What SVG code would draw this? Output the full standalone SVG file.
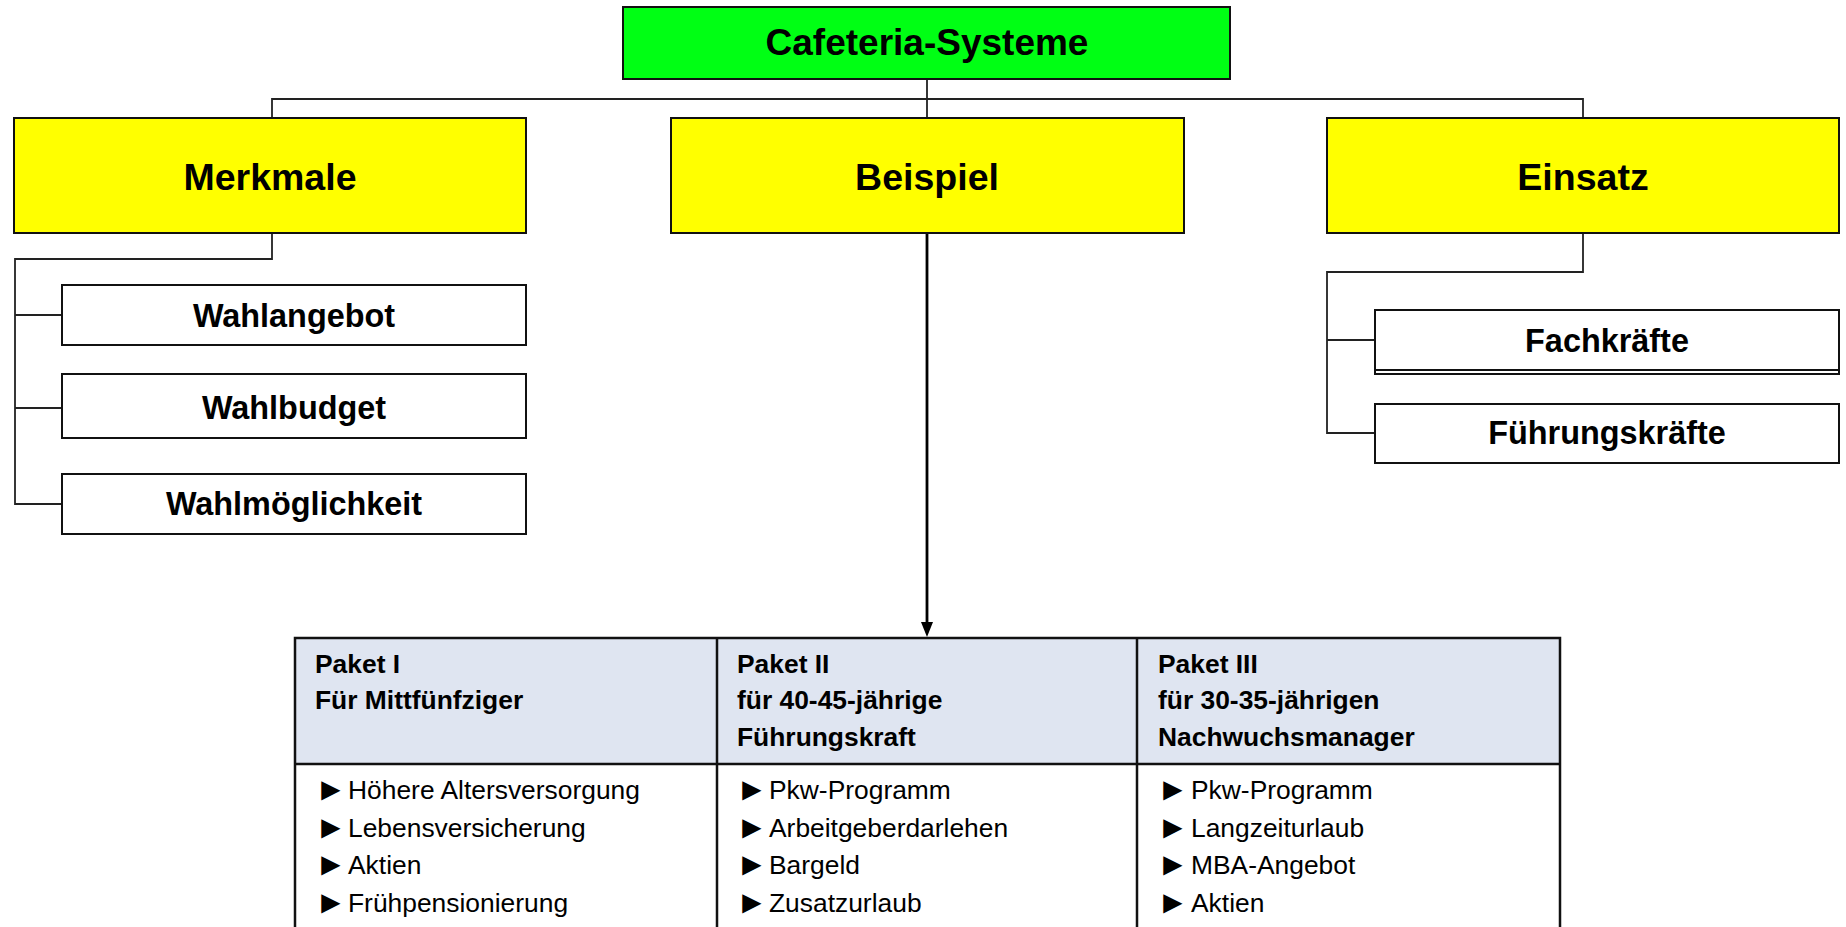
<svg xmlns="http://www.w3.org/2000/svg" width="1846" height="927" viewBox="0 0 1846 927">
<defs>
<style>
.box{stroke:#111;stroke-width:2}
.green{fill:#00FF14}
.yellow{fill:#FFFF00}
.white{fill:#FFFFFF}
.t{font-family:"Liberation Sans",Arial,sans-serif;font-weight:bold;fill:#000;text-anchor:middle}
.t37{font-size:37px}
.t36{font-size:37.5px}
.t32{font-size:32.4px}
.conn{fill:none;stroke:#222;stroke-width:1.8}
.arrow{fill:none;stroke:#000;stroke-width:2.8}
.hdr{fill:#DFE5F1}
.grid{fill:none;stroke:#111;stroke-width:2.5}
.th{font-family:"Liberation Sans",Arial,sans-serif;font-weight:bold;font-size:26.4px;fill:#000}
.td{font-family:"Liberation Sans",Arial,sans-serif;font-size:26.4px;fill:#000}
.bu{font-family:"Liberation Sans",Arial,sans-serif;font-size:32px;fill:#000}
</style>
</defs>
<rect width="1846" height="927" fill="#FFFFFF"/>

<g id="connectors">
<path class="conn" d="M927,79 V118 M272,118 V99 H1583 V118"/>
<path class="conn" d="M272,233 V259 H15 V504 H62 M15,315 H62 M15,408 H62"/>
<path class="conn" d="M1583,233 V272 H1327 V433 H1375 M1327,340 H1375"/>
<line class="arrow" x1="927" y1="234" x2="927" y2="624"/>
<path d="M921,622 L933,622 L927,637 Z" fill="#000"/>
</g>

<g id="cafeteria">
<rect class="box green" x="623" y="7" width="607" height="72"/>
<text class="t t37" x="927" y="55">Cafeteria-Systeme</text>
</g>

<g id="merkmale">
<rect class="box yellow" x="14" y="118" width="512" height="115"/>
<text class="t t36" x="270" y="190">Merkmale</text>
</g>
<g id="beispiel">
<rect class="box yellow" x="671" y="118" width="513" height="115"/>
<text class="t t36" x="927" y="190">Beispiel</text>
</g>
<g id="einsatz">
<rect class="box yellow" x="1327" y="118" width="512" height="115"/>
<text class="t t36" x="1583" y="190">Einsatz</text>
</g>

<g id="wahlangebot">
<rect class="box white" x="62" y="285" width="464" height="60"/>
<text class="t t32" x="294" y="327">Wahlangebot</text>
</g>
<g id="wahlbudget">
<rect class="box white" x="62" y="374" width="464" height="64"/>
<text class="t t32" x="294" y="419">Wahlbudget</text>
</g>
<g id="wahlmoeglichkeit">
<rect class="box white" x="62" y="474" width="464" height="60"/>
<text class="t t32" x="294" y="515">Wahlmöglichkeit</text>
</g>

<g id="fachkraefte">
<rect class="box white" x="1375" y="310" width="464" height="64"/>
<rect class="box white" x="1375" y="310" width="464" height="60"/>
<text class="t t32" x="1607" y="352">Fachkräfte</text>
</g>
<g id="fuehrungskraefte">
<rect class="box white" x="1375" y="404" width="464" height="59"/>
<text class="t t32" x="1607" y="444">Führungskräfte</text>
</g>

<g id="table">
<rect class="hdr" x="295" y="638" width="1265" height="126"/>
<rect fill="#FFFFFF" x="295" y="764" width="1265" height="180"/>
<path class="grid" d="M295,945 V638 H1560 V945 M295,764 H1560 M717,638 V945 M1137,638 V945"/>
<text class="th" x="315" y="673">Paket I</text>
<text class="th" x="315" y="709">Für Mittfünfziger</text>
<text class="th" x="737" y="673">Paket II</text>
<text class="th" x="737" y="709">für 40-45-jährige</text>
<text class="th" x="737" y="746">Führungskraft</text>
<text class="th" x="1158" y="673">Paket III</text>
<text class="th" x="1158" y="709">für 30-35-jährigen</text>
<text class="th" x="1158" y="746">Nachwuchsmanager</text>

<text class="bu" x="315" y="800">►</text>
<text class="bu" x="315" y="838">►</text>
<text class="bu" x="315" y="875">►</text>
<text class="bu" x="315" y="913">►</text>
<text class="bu" x="736" y="800">►</text>
<text class="bu" x="736" y="838">►</text>
<text class="bu" x="736" y="875">►</text>
<text class="bu" x="736" y="913">►</text>
<text class="bu" x="1157" y="800">►</text>
<text class="bu" x="1157" y="838">►</text>
<text class="bu" x="1157" y="875">►</text>
<text class="bu" x="1157" y="913">►</text>

<text class="td" x="348" y="799">Höhere Altersversorgung</text>
<text class="td" x="348" y="837">Lebensversicherung</text>
<text class="td" x="348" y="874">Aktien</text>
<text class="td" x="348" y="912">Frühpensionierung</text>

<text class="td" x="769" y="799">Pkw-Programm</text>
<text class="td" x="769" y="837">Arbeitgeberdarlehen</text>
<text class="td" x="769" y="874">Bargeld</text>
<text class="td" x="769" y="912">Zusatzurlaub</text>

<text class="td" x="1191" y="799">Pkw-Programm</text>
<text class="td" x="1191" y="837">Langzeiturlaub</text>
<text class="td" x="1191" y="874">MBA-Angebot</text>
<text class="td" x="1191" y="912">Aktien</text>
</g>
</svg>
